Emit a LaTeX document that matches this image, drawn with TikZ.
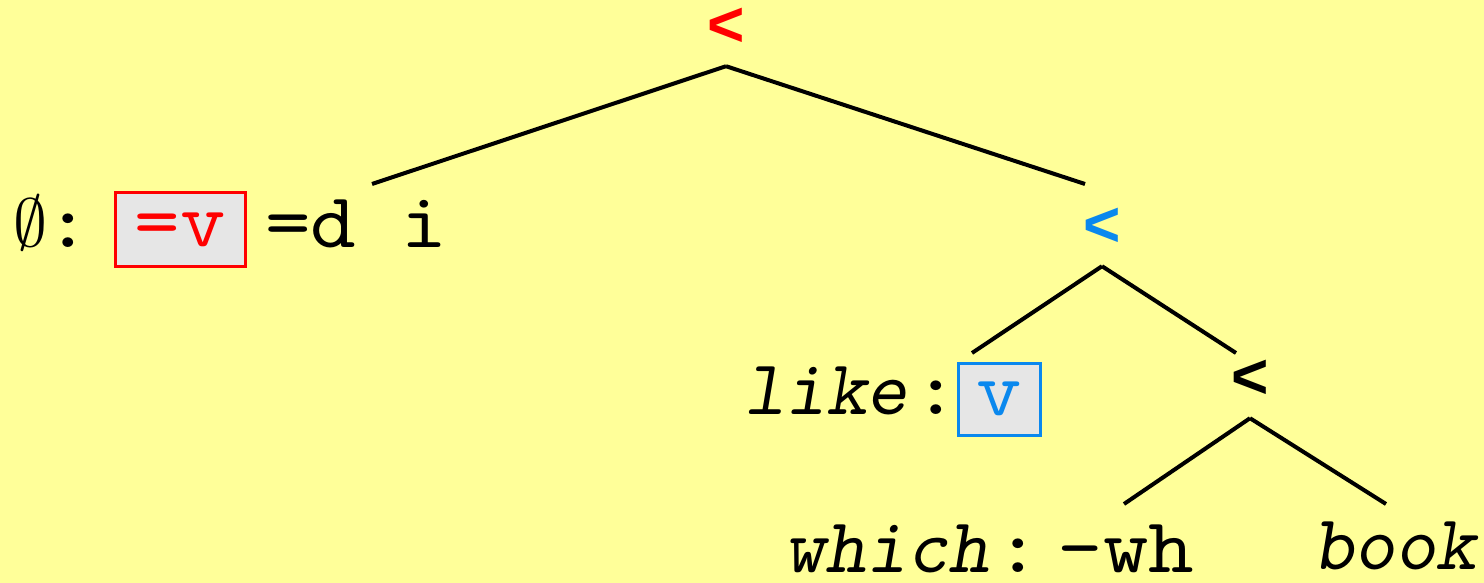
\documentclass[tikz,border=0pt]{standalone}
\usepackage{graphicx}
\usepackage{fontspec}
\setmonofont{lmmono10-regular}[Extension=.otf, FakeStretch=1.11]
\newfontfamily\wordfont{lmmonoslant10-regular}[Extension=.otf]
\newfontfamily\opfont{Liberation Sans}
\usetikzlibrary{positioning}
\definecolor{pad}{HTML}{FFFF99}
\definecolor{shade}{HTML}{E6E6E6}
\definecolor{fire}{HTML}{FF0000}
\definecolor{sky}{HTML}{0A88EE}
\tikzset{
  op/.style={font=\opfont\bfseries\fontsize{32}{32}\selectfont, inner sep=0pt, outer sep=10pt},
  lex/.style={font=\ttfamily\fontsize{39}{40}\selectfont, inner sep=0pt, anchor=base},
  word/.style={lex, font=\wordfont\fontsize{39}{40}\selectfont},
  feat/.style={font=\ttfamily\fontsize{39}{40}\selectfont, inner sep=0pt, fill=shade, draw=#1, text=#1, line width=1.5pt},
  branch/.style={line width=2pt}
}

\begin{document}
\begin{tikzpicture}[x=0.5pt,y=-0.5pt]
  \useasboundingbox (0,0) rectangle (1484,583);
  \fill[pad] (0,0) rectangle (1484,583);
  % merge nodes
  \node[op, text=fire] (top) at (726,27) {<};
  \node[op, text=sky] (mid) at (1102,227) {<};
  \node[op] (low) at (1250,379) {<};
  % leaves
  \node[inner sep=0pt, anchor=base] (nul) at (30.5,246) {\scalebox{3.4}{$\emptyset$}};
  \node[lex] (nulc) at (68,247) {:};
  \node[feat=fire, minimum width=65pt, minimum height=36.5pt] (vsel) at (180,229.5) {=v};
  \node[lex] (nulf) at (356,247) {=d i};
  \node[word] (like) at (826,414) {like};
  \node[lex] (likec) at (936,414) {:};
  \node[feat=sky, minimum width=41pt, minimum height=36pt] (vcat) at (999,399) {v};
  \node[word] (which) at (887,572) {which};
  \node[lex] (whichc) at (1018,572) {:};
  \node[lex] (wh) at (1126,572) {\textendash wh};
  \node[word] (book) at (1395,569) {book};
  % branch ends
  \coordinate (nul-top) at (372,184);
  \coordinate (mid-top) at (1085,184);
  \coordinate (like-top) at (972,353);
  \coordinate (low-top) at (1236,353);
  \coordinate (which-top) at (1124,504);
  \coordinate (book-top) at (1386,504);
  \foreach \a/\b in {top/nul-top, top/mid-top, mid/like-top, mid/low-top, low/which-top, low/book-top}
    \draw[branch] (\a.south) -- (\b);
\end{tikzpicture}
\end{document}
